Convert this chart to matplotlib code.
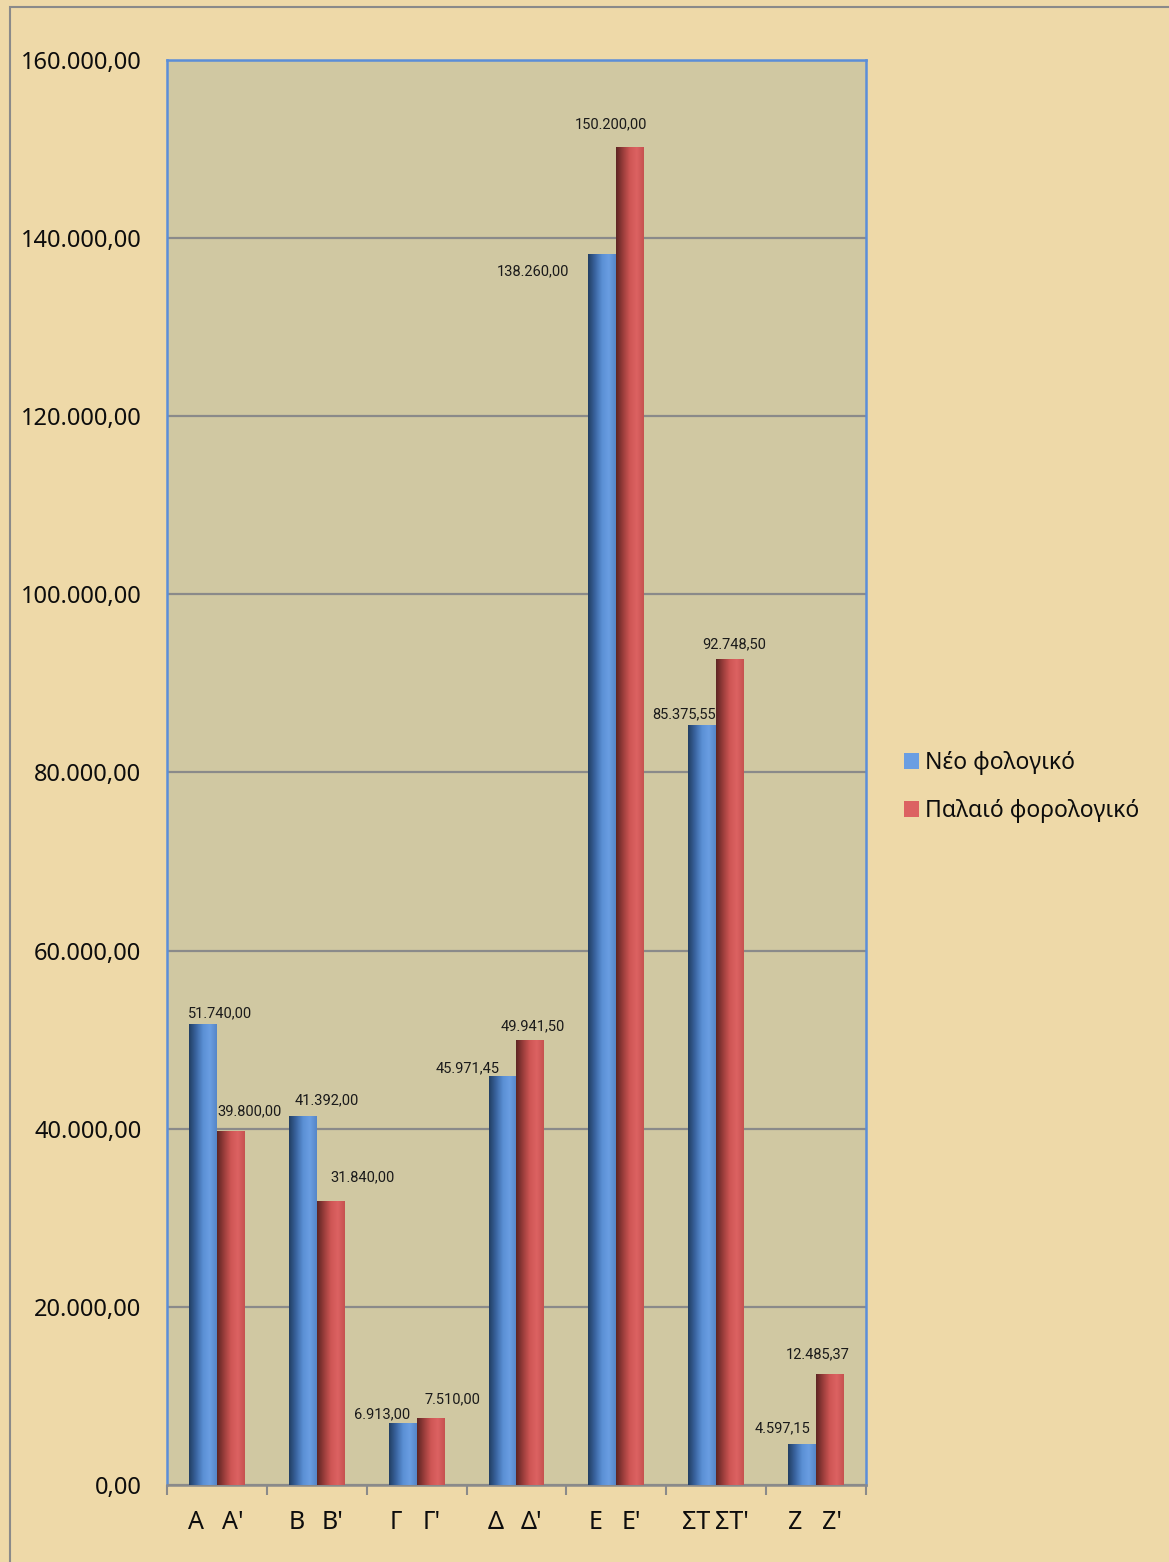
import matplotlib.pyplot as plt
import numpy as np
from matplotlib.colors import LinearSegmentedColormap
from matplotlib.patches import Rectangle
from matplotlib.ticker import FuncFormatter

categories = ['Α', 'Β', 'Γ', 'Δ', 'Ε', 'ΣΤ', 'Ζ']
new_tax = [51740.00, 41392.00, 6913.00, 45971.45, 138260.00, 85375.55, 4597.15]
old_tax = [39800.00, 31840.00, 7510.00, 49941.50, 150200.00, 92748.50, 12485.37]
series_names = ['Νέο φολογικό', 'Παλαιό φορολογικό']
y_ticks = [0, 20000, 40000, 60000, 80000, 100000, 120000, 140000, 160000]

# hand placed data label offsets (pixels) as in the original sheet
new_offsets = [(17, 11), (24, 16), (-21, 9), (-35, 7), (-69, -18), (-18, 10), (-20, 16)]
old_offsets = [(19, 19), (32, 24), (22, 19), (2, 14), (-19, 23), (4, 15), (-12, 20)]


def greek_num(v, pos=None):
    s = f'{v:,.2f}'
    return s.replace(',', ' ').replace('.', ',').replace(' ', '.')


def shaded_bars(ax, x, vals, width, colors):
    cmap = LinearSegmentedColormap.from_list('cyl', colors)
    bars = ax.bar(x, vals, width, color=colors[-2], zorder=3, linewidth=0)
    grad = np.linspace(0, 1, 64).reshape(1, -1)
    for b in bars:
        x0, w, h = b.get_x(), b.get_width(), b.get_height()
        im = ax.imshow(grad, extent=[x0, x0 + w, 0, h], aspect='auto',
                       cmap=cmap, zorder=4, interpolation='bilinear')
        im.set_clip_path(b)
    return bars


W, H = 1169, 1562
fig = plt.figure(figsize=(W / 100, H / 100), dpi=100)
fig.patch.set_facecolor('#eed9a8')
# outer frame, only its left and top edges fall inside the picture
fig.patches.append(Rectangle((10 / W, -0.05), 1.2, 1 - 7 / H + 0.05,
                             transform=fig.transFigure, fill=False,
                             edgecolor='#8a8a8a', linewidth=1.5))

ax = fig.add_axes([167 / W, 77 / H, 699 / W, 1425 / H])
ax.set_facecolor('#d0c8a2')

n = len(categories)
x = np.arange(n)
bw = 0.28
blue = ['#223f63', '#3a64a0', '#5a8fd4', '#6a9ee2', '#5686c8']
red = ['#5e2523', '#9a3d3b', '#cf5654', '#dc6262', '#c65250']
b1 = shaded_bars(ax, x - bw / 2, new_tax, bw, blue)
b2 = shaded_bars(ax, x + bw / 2, old_tax, bw, red)

for bars, vals, offs in ((b1, new_tax, new_offsets), (b2, old_tax, old_offsets)):
    for b, v, (dx, dy) in zip(bars, vals, offs):
        ax.annotate(greek_num(v), (b.get_x() + b.get_width() / 2, v),
                    xytext=(dx * 0.72, dy * 0.72), textcoords='offset points',
                    ha='center', va='center', fontsize=10.5,
                    family='Roboto', color='#1a1a1a', zorder=6)

ax.set_xlim(-0.5, n - 0.5)
ax.set_ylim(0, 160000)
ax.set_yticks(y_ticks)
ax.yaxis.set_major_formatter(FuncFormatter(greek_num))
ax.yaxis.grid(True, color='#8a8a8a', linewidth=1.6)
ax.set_axisbelow(True)
ax.tick_params(axis='y', length=0, pad=18.5, labelsize=17, labelcolor='#0d0d0d')
for lbl in ax.get_yticklabels():
    lbl.set_family('Noto Sans')

tick_pos = []
tick_lbl = []
for i, c in enumerate(categories):
    tick_pos += [i - 0.205, i + 0.155]
    tick_lbl += [c, c + "'"]
ax.set_xticks(tick_pos)
ax.set_xticklabels(tick_lbl, fontsize=18, family='Noto Sans', color='#0d0d0d')
ax.tick_params(axis='x', length=0, pad=18)
ax.set_xticks(np.arange(n + 1) - 0.5, minor=True)
ax.tick_params(axis='x', which='minor', length=7, width=1.5, color='#8a8a8a')

for side in ('left', 'top', 'right'):
    ax.spines[side].set_color('#5b8ed8')
    ax.spines[side].set_linewidth(1.8)
ax.spines['bottom'].set_color('#8a8a8a')
ax.spines['bottom'].set_linewidth(1.8)

leg = fig.legend([b1, b2], series_names, loc='center left',
                 bbox_to_anchor=(883 / W, 1 - 787 / H), frameon=False,
                 handlelength=0.65, handleheight=0.65, handletextpad=0.3,
                 labelspacing=1.05, prop={'family': 'Noto Sans', 'size': 16.5})
for t in leg.get_texts():
    t.set_color('#0d0d0d')

fig.savefig('out.png', dpi=100, facecolor=fig.get_facecolor())
